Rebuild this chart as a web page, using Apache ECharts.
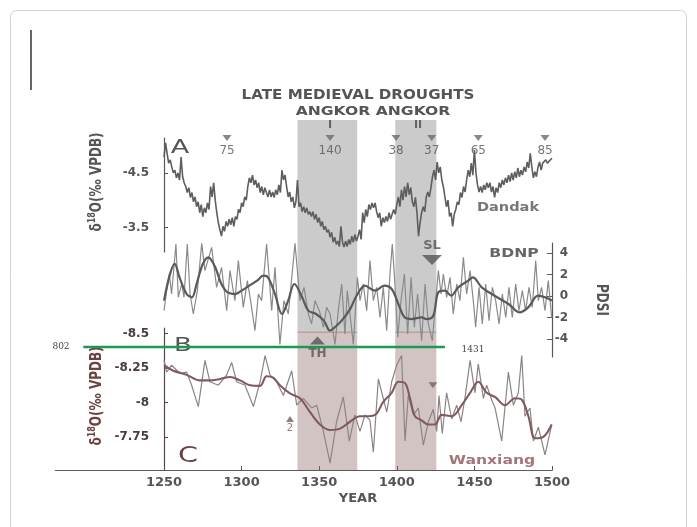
<!DOCTYPE html>
<html>
<head>
<meta charset="utf-8">
<title>Late medieval droughts</title>
<script src="https://cdn.jsdelivr.net/npm/echarts@6/dist/echarts.min.js"></script>
<style>
  html, body { margin: 0; padding: 0; background: #ffffff; }
  #chart { width: 697px; height: 527px; }
</style>
</head>
<body>
<div id="chart"></div>
<script>
// ---- data ----
const yearTicks = [1250, 1300, 1350, 1400, 1450, 1500];
const droughtBands = [[1336, 1374.5], [1399, 1425.5]];

// Dandak speleothem d18O, annual from 1250
const dandakStart = 1250;
const dandakValues = [
  -4.79, -5.05, -4.86, -4.68, -4.74, -4.61, -4.50, -4.55, -4.41, -4.50,
  -4.37, -4.79, -4.43, -4.32, -4.25, -4.14, -4.23, -4.05, -4.14, -3.97,
  -4.06, -3.88, -3.97, -3.77, -3.92, -3.70, -3.86, -3.77, -3.95, -3.83,
  -4.25, -4.06, -4.32, -4.00, -3.77, -3.59, -3.46, -3.34, -3.52, -3.43,
  -3.61, -3.52, -3.65, -3.55, -3.68, -3.52, -3.70, -3.65, -3.83, -3.77,
  -3.95, -3.88, -4.06, -4.00, -4.25, -4.41, -4.32, -4.46, -4.28, -4.37,
  -4.23, -4.32, -4.14, -4.25, -4.10, -4.23, -4.14, -4.06, -4.19, -4.06,
  -4.15, -4.05, -4.19, -4.10, -4.28, -4.14, -4.55, -4.37, -4.46, -4.25,
  -4.06, -4.15, -3.97, -4.06, -3.86, -3.97, -4.37, -3.88, -3.95, -3.79,
  -3.88, -3.77, -3.86, -3.74, -3.79, -3.70, -3.79, -3.65, -3.74, -3.59,
  -3.68, -3.52, -3.61, -3.46, -3.52, -3.41, -3.46, -3.32, -3.41, -3.23,
  -3.32, -3.19, -3.25, -3.15, -3.52, -3.23, -3.14, -3.25, -3.15, -3.28,
  -3.19, -3.34, -3.23, -3.37, -3.25, -3.34, -3.46, -3.28, -3.77, -3.59,
  -3.83, -3.70, -3.92, -3.83, -3.95, -3.86, -3.95, -3.79, -3.68, -3.77,
  -3.52, -3.68, -3.59, -3.70, -3.61, -3.77, -3.65, -3.74, -3.83, -3.74,
  -3.92, -4.06, -3.88, -4.19, -4.00, -4.25, -4.06, -4.32, -4.10, -4.23,
  -3.97, -3.88, -4.05, -3.77, -3.34, -3.59, -3.77, -3.88, -3.79, -4.06,
  -4.15, -4.06, -4.23, -4.43, -4.55, -4.37, -4.70, -4.50, -4.61, -4.37,
  -4.25, -4.06, -3.88, -4.00, -3.70, -3.77, -3.52, -3.74, -3.83, -3.97,
  -3.92, -4.14, -4.05, -4.25, -4.15, -4.37, -4.55, -4.43, -4.68, -4.46,
  -4.92, -4.50, -4.28, -4.15, -4.25, -4.14, -4.28, -4.19, -4.32, -4.23,
  -4.32, -4.15, -4.25, -4.05, -4.23, -4.14, -4.32, -4.23, -4.37, -4.28,
  -4.41, -4.32, -4.46, -4.34, -4.50, -4.37, -4.52, -4.41, -4.59, -4.43,
  -4.55, -4.46, -4.61, -4.52, -4.70, -4.59, -4.86, -4.61, -4.41, -4.52,
  -4.43, -4.61, -4.70, -4.55, -4.68, -4.65, -4.74, -4.68, -4.70, -4.74,
  -4.77
];

// BDNP PDSI, raw and smoothed  [year, PDSI]
const bdnpRaw = [
  [1250, -1.36], [1251.7, 0.5], [1253.4, 2.05], [1254.9, 0.19], [1257.7, 4.84],
  [1259.2, -0.12], [1261.4, 1.12], [1262.9, -0.12], [1265, 4.84], [1266.8, 0.19],
  [1268.9, -1.67], [1271.5, 0.5], [1274.3, 4.9], [1276.4, 2.36], [1280.7, 4.53],
  [1283.9, 0.81], [1287.1, 2.67], [1290.4, -1.36], [1292.5, 2.36], [1295.7, -0.43],
  [1297.9, 3.29], [1301.1, -1.05], [1303.7, 1.43], [1305.8, -0.43], [1308.6, -3.22],
  [1310.8, 0.19], [1312.9, -0.43], [1316.1, 4.84], [1319.4, -1.36], [1321.5, 2.67],
  [1324.7, -4.5], [1327.3, -0.43], [1330.1, -1.67], [1334.4, 4.9], [1337.6, -0.43],
  [1340.2, 0.81], [1343, -1.67], [1345.1, -2.6], [1347.3, -0.43], [1350.1, -1.36],
  [1352.7, -2.91], [1354.8, -1.05], [1357, -1.67], [1360.2, -4.5], [1362.3, -1.36],
  [1364.5, 1.12], [1366.6, -3.53], [1368.1, 0.5], [1372, -4.5], [1374.6, 1.74],
  [1376.3, -0.43], [1378.4, 1.12], [1380.6, -1.36], [1382.7, 3.29], [1384.9, -0.43],
  [1387, 0.81], [1389.2, -1.98], [1391.3, 0.81], [1393.5, -3.22], [1395.6, 2.05],
  [1397.1, 4.84], [1398.8, 1.12], [1400.6, -3.84], [1402.7, -0.43], [1404.9, 2.05],
  [1407, -3.53], [1409.2, 1.74], [1411.3, -2.91], [1413.4, 0.19], [1416, -4.16],
  [1418.2, 1.12], [1420.3, -2.6], [1422.9, -4.16], [1425.1, -0.43], [1426.8, 2.36],
  [1428.5, 0.19], [1430, 2.05], [1432.1, -0.12], [1434.3, 1.74], [1436.4, -1.67],
  [1438.6, 1.12], [1440.7, -0.43], [1442.9, 3.6], [1445, 0.19], [1447.2, 2.36],
  [1449.3, -0.43], [1450.8, -2.91], [1453, 0.81], [1455.1, -2.6], [1457.3, 1.12],
  [1459.4, -2.29], [1461.6, 0.81], [1463.7, -0.43], [1465.9, -2.6], [1468, 0.19],
  [1470.2, -1.98], [1472.3, 0.81], [1474.4, -1.98], [1476.6, 1.12], [1478.7, -1.36],
  [1480.9, 0.5], [1483, -1.36], [1485.2, 0.81], [1487.3, -1.05], [1489.5, 3.29],
  [1491.2, -0.43], [1493.3, 0.81], [1495.5, -1.36], [1497.6, 1.43], [1499.8, -1.98]
];
const bdnpSmooth = [
  [1250, -0.43], [1257, 2.98], [1260, 1.74], [1264.6, 0.19], [1268, -0.12],
  [1271, 1.12], [1275, 2.98], [1278.6, 3.6], [1283, 2.67], [1287, 1.12],
  [1291, 0.34], [1296, 0.19], [1300, 0.5], [1305, 0.96], [1310, 1.43],
  [1314, 1.89], [1317, 1.74], [1321.5, 0.19], [1326, -1.67], [1330, -0.43],
  [1334, 1.12], [1339, -0.12], [1343, -1.36], [1348, -1.67], [1353, -2.29],
  [1357, -3.22], [1360, -2.91], [1364.5, -2.29], [1370, -1.2], [1374, 0.0],
  [1379.5, 0.96], [1386, 0.5], [1392, 0.96], [1396.7, 0.65], [1401, -0.74],
  [1405, -1.98], [1409.6, -2.14], [1416, -1.98], [1419, -2.14], [1423.5, -1.83],
  [1426.7, 0.34], [1431, 0.5], [1435, 0.03], [1439.6, 0.81], [1446, 1.43],
  [1449, 1.74], [1454.7, 0.81], [1463, 0.03], [1472, -0.74], [1479, -1.52],
  [1484.7, -1.05], [1491, 0.03], [1495.5, -0.12], [1500, -0.43]
];

// Wanxiang speleothem d18O, raw and smoothed  [year, d18O]
const wanxiangRaw = [
  [1250, -8.305], [1251.7, -8.22], [1254.9, -8.27], [1260.3, -8.21], [1264.6, -8.22],
  [1267.8, -8.125], [1272.1, -7.97], [1276.4, -8.305], [1279.6, -8.15], [1285, -8.125],
  [1290.4, -8.2], [1293.6, -8.29], [1296.8, -8.15], [1302.2, -8.125], [1307.6, -7.97],
  [1311.9, -8.15], [1315.1, -8.34], [1318.3, -8.2], [1322.6, -8.15], [1326.9, -8.05],
  [1332.3, -8.23], [1335.5, -7.98], [1339.8, -8.03], [1345.1, -7.96], [1348.4, -7.98],
  [1352.7, -7.79], [1357, -7.56], [1361.2, -7.86], [1365.5, -8.04], [1369.4, -7.72],
  [1373, -7.91], [1376.3, -7.79], [1379.5, -7.91], [1382.7, -7.87], [1384.9, -7.64],
  [1388.1, -8.17], [1391.3, -8.03], [1393.5, -7.93], [1396.7, -8.15], [1399.9, -8.27],
  [1403.1, -8.34], [1405.3, -7.72], [1407.4, -8.05], [1410.7, -7.91], [1413.9, -7.96],
  [1417.1, -7.69], [1420.3, -7.86], [1423.5, -7.95], [1425.7, -7.79], [1427.2, -8.05],
  [1429.3, -7.775], [1432.1, -8.07], [1435.4, -7.88], [1438.6, -7.98], [1441.4, -7.86],
  [1443.9, -8.03], [1447.2, -8.305], [1450.4, -8.07], [1452.5, -8.28], [1455.8, -8.03],
  [1457.9, -8.125], [1461.1, -8.02], [1463.3, -7.96], [1467.6, -7.72], [1471.9, -8.22],
  [1475.1, -7.98], [1478.3, -8.07], [1480.5, -8.34], [1482.6, -7.90], [1485.8, -7.96],
  [1488, -7.72], [1491.2, -7.82], [1495.5, -7.62], [1499.8, -7.84]
];
const wanxiangSmooth = [
  [1250, -8.27], [1256, -8.23], [1264.6, -8.2], [1273.2, -8.16], [1279.6, -8.16],
  [1286.1, -8.17], [1292.5, -8.185], [1299, -8.16], [1305.4, -8.125], [1311.9, -8.12],
  [1316.1, -8.19], [1320.4, -8.18], [1324.7, -8.125], [1331.2, -8.065], [1337.6, -8.03],
  [1344.1, -7.93], [1350.5, -7.84], [1357, -7.80], [1363.4, -7.81], [1369.8, -7.86],
  [1376.3, -7.90], [1379.5, -7.90], [1386, -7.91], [1391.3, -8.005], [1396.7, -8.07],
  [1401, -8.15], [1405.3, -8.14], [1408.5, -8.03], [1411.7, -7.90], [1416, -7.87],
  [1420.3, -7.84], [1424.6, -7.84], [1428.9, -7.91], [1435.4, -7.90], [1441.8, -7.98],
  [1447.2, -8.07], [1452.5, -8.15], [1457.9, -8.07], [1463.3, -8.04], [1469.7, -7.98],
  [1476.2, -8.03], [1480.5, -8.02], [1484.8, -7.90], [1489.1, -7.74], [1494.4, -7.75],
  [1499.8, -7.84]
];

// sample-count markers along the top, and event markers
const sampleYears = [1290.6, 1357, 1399.5, 1422.5, 1452.5, 1495.5];
const sampleCounts = ['75', '140', '38', '37', '65', '85'];
const angkorSpan = [1198, 1431];   // green Angkor-era bar (begins 802, cut at the frame)

// ---- chart ----
const FONT = '"DejaVu Sans", "Liberation Sans", sans-serif';
const GREY = '#585858';
const BROWN = '#6e4040';
const chart = echarts.init(document.getElementById('chart'), null, { renderer: 'canvas' });

const plotLeft = 164, plotWidth = 388;
const pxPerYear = plotWidth / 250;
const wideMin = 1180;
const greenLevel = 0.711;

const hiddenX = (grid, min) => ({
  gridIndex: grid, type: 'value', min: min, max: 1500, show: false
});

const option = {
  backgroundColor: '#ffffff',
  animation: false,
  grid: [
    { left: plotLeft, width: plotWidth, top: 138, height: 114 },   // A Dandak
    { left: plotLeft, width: plotWidth, top: 243, height: 114 },   // B BDNP
    { left: plotLeft, width: plotWidth, top: 328, height: 142 },   // C Wanxiang
    { left: plotLeft - (1250 - wideMin) * pxPerYear, width: (1500 - wideMin) * pxPerYear, top: 297, height: 173 },
    { left: plotLeft, width: plotWidth, top: 120, height: 213 }    // shaded bands
  ],
  xAxis: [
    hiddenX(0, 1250),
    hiddenX(1, 1250),
    {
      gridIndex: 2, type: 'value', min: 1250, max: 1500, interval: 50,
      axisLine: { lineStyle: { color: GREY, width: 1.2 } },
      axisTick: { inside: true, length: 4, lineStyle: { color: GREY } },
      splitLine: { show: false },
      axisLabel: {
        margin: 6, color: '#555', fontFamily: FONT, fontWeight: 'bold', fontSize: 13,
        customValues: yearTicks, formatter: v => String(v)
      },
      name: 'YEAR', nameLocation: 'middle', nameGap: 22,
      nameTextStyle: { color: '#555', fontFamily: FONT, fontWeight: 'bold', fontSize: 13 }
    },
    {
      gridIndex: 3, type: 'value', min: wideMin, max: 1500,
      axisLine: { lineStyle: { color: GREY, width: 1.2 } },
      axisTick: { show: false }, axisLabel: { show: false }, splitLine: { show: false }
    },
    hiddenX(4, 1250)
  ],
  yAxis: [
    {
      gridIndex: 0, type: 'value', inverse: true, min: -5.14, max: -3.05,
      axisLine: { show: true, lineStyle: { color: GREY, width: 1.2 } },
      axisTick: { show: true, inside: true, length: 4, customValues: [-4.5, -3.5], lineStyle: { color: GREY } },
      axisLabel: {
        customValues: [-4.5, -3.5], formatter: v => String(v), margin: 15,
        color: '#555', fontFamily: FONT, fontWeight: 'bold', fontSize: 12
      },
      splitLine: { show: false }
    },
    {
      gridIndex: 1, type: 'value', position: 'right', min: -5.67, max: 4.93,
      axisLine: { show: true, lineStyle: { color: GREY, width: 1.2 } },
      axisTick: { show: true, inside: true, length: 5, customValues: [-4, -2, 0, 2, 4], lineStyle: { color: GREY } },
      axisLabel: {
        customValues: [-4, -2, 0, 2, 4], formatter: v => String(v), margin: 16, align: 'right',
        color: '#555', fontFamily: FONT, fontWeight: 'bold', fontSize: 12
      },
      splitLine: { show: false }
    },
    {
      gridIndex: 2, type: 'value', inverse: true, min: -8.54, max: -7.51,
      axisLine: { show: true, lineStyle: { color: '#5a4545', width: 1.2 } },
      axisTick: { show: true, inside: true, length: 4, customValues: [-8.5, -8.25, -8, -7.75], lineStyle: { color: '#5a4545' } },
      axisLabel: {
        customValues: [-8.5, -8.25, -8, -7.75], formatter: v => String(v), margin: 15,
        color: '#4c3c3c', fontFamily: FONT, fontWeight: 'bold', fontSize: 12
      },
      splitLine: { show: false }
    },
    { gridIndex: 3, type: 'value', min: 0, max: 1, show: false },
    { gridIndex: 4, type: 'value', min: 0, max: 1, show: false }
  ],
  series: [
    {
      name: 'bands', type: 'line', xAxisIndex: 4, yAxisIndex: 4, z: 1,
      data: [[1250, 0.5]], symbol: 'none', lineStyle: { opacity: 0 }, silent: true,
      markArea: {
        silent: true,
        itemStyle: { color: 'rgba(125,125,125,0.40)' },
        data: droughtBands.map(b => [{ xAxis: b[0] }, { xAxis: b[1] }])
      }
    },
    {
      name: 'bandsC', type: 'line', xAxisIndex: 2, yAxisIndex: 2, z: 1,
      data: [[1250, -8]], symbol: 'none', lineStyle: { opacity: 0 }, silent: true,
      markArea: {
        silent: true,
        itemStyle: { color: 'rgba(140,100,100,0.38)' },
        data: droughtBands.map(b => [{ xAxis: b[0], yAxis: -8.515 }, { xAxis: b[1], yAxis: -7.51 }])
      }
    },
    {
      name: 'Dandak', type: 'line', xAxisIndex: 0, yAxisIndex: 0, z: 3,
      data: dandakValues.map((v, i) => [dandakStart + i, v]),
      symbol: 'none', lineStyle: { color: '#5e5e5e', width: 1.6 }
    },
    {
      name: 'BDNP raw', type: 'line', xAxisIndex: 1, yAxisIndex: 1, z: 3,
      data: bdnpRaw, symbol: 'none', lineStyle: { color: '#8a8a8a', width: 1.2 }
    },
    {
      name: 'BDNP smooth', type: 'line', xAxisIndex: 1, yAxisIndex: 1, z: 4, smooth: 0.35,
      data: bdnpSmooth, symbol: 'none', lineStyle: { color: '#5a5a5a', width: 2.2 }
    },
    {
      name: 'Wanxiang raw', type: 'line', xAxisIndex: 2, yAxisIndex: 2, z: 3,
      data: wanxiangRaw, symbol: 'none', lineStyle: { color: '#8c8484', width: 1.2 }
    },
    {
      name: 'Wanxiang smooth', type: 'line', xAxisIndex: 2, yAxisIndex: 2, z: 4, smooth: 0.35,
      data: wanxiangSmooth, symbol: 'none', lineStyle: { color: '#7f5a5e', width: 2.1 }
    },
    {
      name: 'Angkor', type: 'line', xAxisIndex: 3, yAxisIndex: 3, z: 6,
      data: angkorSpan.map(y => [y, greenLevel]),
      symbol: 'none', lineStyle: { color: '#1c9a55', width: 2.5 }
    },
    {
      name: 'counts', type: 'scatter', xAxisIndex: 0, yAxisIndex: 0, z: 6, clip: false,
      symbol: 'triangle', symbolRotate: 180, symbolSize: [9, 6],
      itemStyle: { color: '#6a6a6a' },
      label: {
        show: true, position: 'bottom', distance: 4, formatter: p => p.name,
        color: '#555', fontFamily: FONT, fontSize: 12
      },
      data: sampleYears.map((y, i) => ({ name: sampleCounts[i], value: [y, -5.14] }))
    },
    {
      name: 'SL', type: 'scatter', xAxisIndex: 1, yAxisIndex: 1, z: 6, clip: false,
      symbol: 'triangle', symbolRotate: 180, symbolSize: [20, 10],
      itemStyle: { color: '#555' },
      label: { show: true, position: 'top', distance: 3, formatter: 'SL', color: '#555', fontFamily: FONT, fontWeight: 'bold', fontSize: 13 },
      data: [[1422.7, 3.35]]
    },
    {
      name: 'TH', type: 'scatter', xAxisIndex: 1, yAxisIndex: 1, z: 6, clip: false,
      symbol: 'triangle', symbolSize: [15, 8],
      itemStyle: { color: '#555' },
      label: { show: true, position: 'bottom', distance: 3, formatter: 'TH', color: '#555', fontFamily: FONT, fontWeight: 'bold', fontSize: 12 },
      data: [[1348.9, -4.14]]
    },
    {
      name: 'C marks down', type: 'scatter', xAxisIndex: 2, yAxisIndex: 2, z: 6,
      symbol: 'triangle', symbolRotate: 180, symbolSize: [9, 6],
      itemStyle: { color: '#7a6262' },
      data: [[1423.3, -8.125]]
    },
    {
      name: 'C marks up', type: 'scatter', xAxisIndex: 2, yAxisIndex: 2, z: 6,
      symbol: 'triangle', symbolSize: [8, 6],
      itemStyle: { color: '#7a5a5a' },
      label: { show: true, position: 'bottom', distance: 1, formatter: '2', color: '#7a5a5a', fontFamily: FONT, fontSize: 10 },
      data: [[1331.2, -7.88]]
    }
  ],
  graphic: [
    { type: 'rect', shape: { x: 10.5, y: 10.5, width: 676, height: 540, r: 6 },
      style: { fill: 'none', stroke: '#d2d2d2', lineWidth: 1 }, silent: true },
    { type: 'line', shape: { x1: 31, y1: 30, x2: 31, y2: 90 }, style: { stroke: '#333', lineWidth: 1.5 }, silent: true },
    { type: 'text', x: 358, y: 95, scaleX: 1.12,
      style: { text: 'LATE MEDIEVAL DROUGHTS', fill: '#555', font: 'bold 13.5px ' + FONT, align: 'center', verticalAlign: 'middle' } },
    { type: 'text', x: 373, y: 112, scaleX: 1.3,
      style: { text: 'ANGKOR ANGKOR', fill: '#555', font: 'bold 12px ' + FONT, align: 'center', verticalAlign: 'middle' } },
    { type: 'text', x: 330, y: 125, style: { text: 'I', fill: '#555', font: 'bold 11px ' + FONT, align: 'center', verticalAlign: 'middle' } },
    { type: 'text', x: 418, y: 125, style: { text: 'II', fill: '#555', font: 'bold 11px ' + FONT, align: 'center', verticalAlign: 'middle' } },
    { type: 'text', x: 180, y: 148, scaleX: 1.35, style: { text: 'A', fill: '#555', font: '20px ' + FONT, align: 'center', verticalAlign: 'middle' } },
    { type: 'text', x: 183, y: 346, scaleX: 1.3, style: { text: 'B', fill: '#555', font: '20px ' + FONT, align: 'center', verticalAlign: 'middle' } },
    { type: 'text', x: 188, y: 456, scaleX: 1.3, style: { text: 'C', fill: BROWN, font: '22px ' + FONT, align: 'center', verticalAlign: 'middle' } },
    { type: 'text', x: 508, y: 208, scaleX: 1.12, style: { text: 'Dandak', fill: '#777', font: 'bold 13px ' + FONT, align: 'center', verticalAlign: 'middle' } },
    { type: 'text', x: 514, y: 254, scaleX: 1.2, style: { text: 'BDNP', fill: '#666', font: 'bold 13px ' + FONT, align: 'center', verticalAlign: 'middle' } },
    { type: 'text', x: 492, y: 461, scaleX: 1.2, style: { text: 'Wanxiang', fill: '#a47777', font: 'bold 13px ' + FONT, align: 'center', verticalAlign: 'middle' } },
    { type: 'text', x: 601, y: 300, rotation: -Math.PI / 2, scaleY: 1.3,
      style: { text: 'PDSI', fill: '#555', font: 'bold 12px ' + FONT, align: 'center', verticalAlign: 'middle' } },
    { type: 'text', x: 96, y: 182, rotation: Math.PI / 2, scaleY: 1.3,
      style: {
        text: '{a|δ}{s|18}{a|O(‰ VPDB)}', align: 'center', verticalAlign: 'middle',
        rich: {
          a: { fill: '#555', font: 'bold 12px ' + FONT, verticalAlign: 'bottom' },
          s: { fill: '#555', font: 'bold 8px ' + FONT, verticalAlign: 'top', padding: [0, 0, 6, 0] }
        }
      } },
    { type: 'text', x: 96, y: 396, rotation: Math.PI / 2, scaleY: 1.3,
      style: {
        text: '{a|δ}{s|18}{a|O(‰ VPDB)}', align: 'center', verticalAlign: 'middle',
        rich: {
          a: { fill: BROWN, font: 'bold 12px ' + FONT, verticalAlign: 'bottom' },
          s: { fill: BROWN, font: 'bold 8px ' + FONT, verticalAlign: 'top', padding: [0, 0, 6, 0] }
        }
      } },
    { type: 'text', x: 61, y: 347, style: { text: '802', fill: '#444', font: '9px "DejaVu Serif", "Liberation Serif", serif', align: 'center', verticalAlign: 'middle' } },
    { type: 'text', x: 473, y: 350, style: { text: '1431', fill: '#444', font: '9px "DejaVu Serif", "Liberation Serif", serif', align: 'center', verticalAlign: 'middle' } }
  ]
};

chart.setOption(option);
</script>
</body>
</html>
